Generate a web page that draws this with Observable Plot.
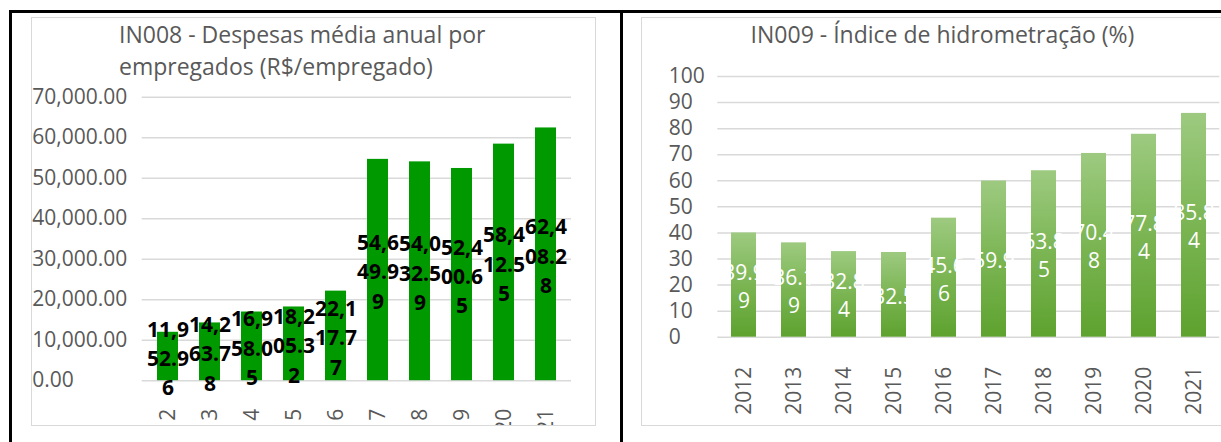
<!DOCTYPE html>
<html><head><meta charset="utf-8">
<script src="https://cdn.jsdelivr.net/npm/d3@7"></script>
<script src="https://cdn.jsdelivr.net/npm/@observablehq/plot@0.6"></script>
<style>
body{margin:0;width:1221px;height:442px;overflow:hidden;background:#fff;position:relative;font-family:"Open Sans",sans-serif;}
.abs{position:absolute;}
.title{position:absolute;font-size:23px;line-height:32px;color:#595959;white-space:nowrap;}
.wrap{position:absolute;overflow:hidden;}
.box{position:absolute;border:1px solid #d9d9d9;box-sizing:border-box;}
</style></head><body>
<div class="abs" style="left:9px;top:10px;width:1300px;height:500px;border-top:3px solid #000;border-left:3px solid #000;"></div>
<div class="abs" style="left:620px;top:10px;width:3px;height:440px;background:#000;"></div>
<div class="wrap" id="c1" style="left:31px;top:17px;width:564px;height:408px;"></div>
<div class="wrap" id="c2" style="left:641px;top:17px;width:580px;height:408px;"></div>
<div class="box" style="left:31px;top:17px;width:565px;height:409px;"></div>
<div class="box" style="left:641px;top:17px;width:700px;height:409px;"></div>
<div class="title" style="left:119px;top:18px;">IN008 - Despesas média anual por<br>empregados (R$/empregado)</div>
<div class="title" style="left:942.5px;top:18px;transform:translateX(-50%);">IN009 - Índice de hidrometração (%)</div>
<script>
const years = ["2012","2013","2014","2015","2016","2017","2018","2019","2020","2021"];
const in008 = [11952.96, 14263.78, 16958.05, 18205.32, 22117.77, 54649.99, 54032.59, 52400.65, 58412.55, 62408.28];
const in009 = [39.99, 36.19, 32.84, 32.5, 45.66, 59.9, 63.85, 70.48, 77.84, 85.84];
const in008Ticks = [0, 10000, 20000, 30000, 40000, 50000, 60000, 70000];
const in009Ticks = [0, 10, 20, 30, 40, 50, 60, 70, 80, 90, 100];

const wrap4 = s => s.match(/.{1,4}/g).join("\n");
const fmt1 = d3.format(",.2f");
const d1 = years.map((y, i) => ({year: y, value: in008[i]}));
const d2 = years.map((y, i) => ({year: y, value: in009[i]}));

const p1 = Plot.plot({
  width: 564, height: 408,
  marginLeft: 110.7, marginRight: 24, marginTop: 79.7, marginBottom: 44.8,
  style: {background: "transparent", fontFamily: "Open Sans", overflow: "hidden"},
  x: {domain: years, paddingInner: 0.5, paddingOuter: 0.25, label: null},
  y: {domain: [0, 70000], label: null},
  marks: [
    Plot.ruleY(in008Ticks, {stroke: "#d9d9d9", strokeWidth: 1.5}),
    Plot.barY(d1, {x: "year", y: "value", fill: "#009900"}),
    Plot.axisY(in008Ticks, {tickSize: 0, tickPadding: 0, textAnchor: "start", dx: -110, tickFormat: fmt1, fontSize: 21, fill: "#595959", label: null}),
    Plot.axisX({tickSize: 0, tickPadding: 28, tickRotate: -90, fontSize: 21, fill: "#595959", label: null}),
    Plot.text(d1, {x: "year", y: d => d.value / 2, text: d => wrap4(fmt1(d.value)), lineAnchor: "middle", lineHeight: 1.4, fontWeight: "bold", fontSize: 21, fill: "#000"})
  ]
});
document.getElementById("c1").appendChild(p1);

const p2 = Plot.plot({
  width: 580, height: 408,
  marginLeft: 76.3, marginRight: 1.7, marginTop: 59, marginBottom: 88.3,
  style: {background: "transparent", fontFamily: "Open Sans", overflow: "hidden"},
  x: {domain: years, paddingInner: 0.5, paddingOuter: 0.25, label: null},
  y: {domain: [0, 100], label: null},
  marks: [
    Plot.ruleY(in009Ticks, {stroke: "#d9d9d9", strokeWidth: 1.5}),
    Plot.barY(d2, {x: "year", y: "value", fill: "url(#g009)"}),
    Plot.axisY(in009Ticks, {tickSize: 0, tickPadding: 0, textAnchor: "start", dx: -49, tickFormat: d => String(d), fontSize: 21, fill: "#595959", label: null}),
    Plot.axisX({tickSize: 0, tickPadding: 29.5, tickRotate: -90, fontSize: 21, fill: "#595959", label: null}),
    Plot.text(d2, {x: "year", y: d => d.value / 2, text: d => wrap4(String(d.value)), lineAnchor: "middle", lineHeight: 1.33, fontSize: 21, fill: "#fff"})
  ]
});
const defs = d3.select(p2).insert("defs", ":first-child");
const g = defs.append("linearGradient").attr("id", "g009").attr("x1", 0).attr("y1", 0).attr("x2", 0).attr("y2", 1);
g.append("stop").attr("offset", "0%").attr("stop-color", "#9dca80");
g.append("stop").attr("offset", "50%").attr("stop-color", "#7bb553");
g.append("stop").attr("offset", "100%").attr("stop-color", "#5ea22f");
document.getElementById("c2").appendChild(p2);
</script>
</body></html>
